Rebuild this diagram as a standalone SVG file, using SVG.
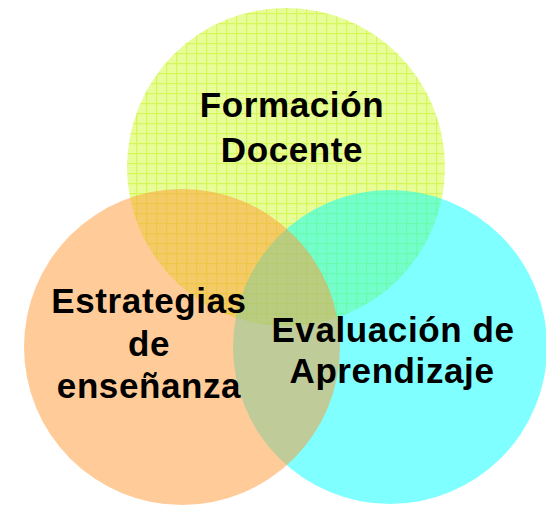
<svg xmlns="http://www.w3.org/2000/svg" width="546" height="506" viewBox="0 0 546 506">
  <defs>
    <pattern id="grid" patternUnits="userSpaceOnUse" x="6" y="3" width="10" height="10">
      <rect width="10" height="10" fill="#e8fc98"/>
      <rect width="1.2" height="10" fill="#d6f75c"/>
      <rect width="10" height="1.2" fill="#d6f75c"/>
    </pattern>
  </defs>
  <style>
    .lbl { font-family: "Liberation Sans", Arial, sans-serif; font-weight: bold; font-size: 35px; fill: #000; text-anchor: middle; letter-spacing: 0.6px; }
  </style>
  <rect width="546" height="506" fill="#ffffff"/>
  <g id="formacion-docente">
    <circle cx="286" cy="167" r="159" fill="url(#grid)"/>
  </g>
  <g id="evaluacion-aprendizaje">
    <circle cx="390" cy="347" r="157" fill="#00ffff" fill-opacity="0.5"/>
  </g>
  <g id="estrategias-ensenanza">
    <circle cx="182" cy="347" r="158" fill="#ff9933" fill-opacity="0.5"/>
  </g>
  <g id="labels">
    <text class="lbl" x="292" y="117">Formación</text>
    <text class="lbl" x="292" y="162">Docente</text>
    <text class="lbl" x="149" y="313">Estrategias</text>
    <text class="lbl" x="149" y="356">de</text>
    <text class="lbl" x="149" y="398">enseñanza</text>
    <text class="lbl" x="393" y="342">Evaluación de</text>
    <text class="lbl" x="392" y="383">Aprendizaje</text>
  </g>
</svg>
